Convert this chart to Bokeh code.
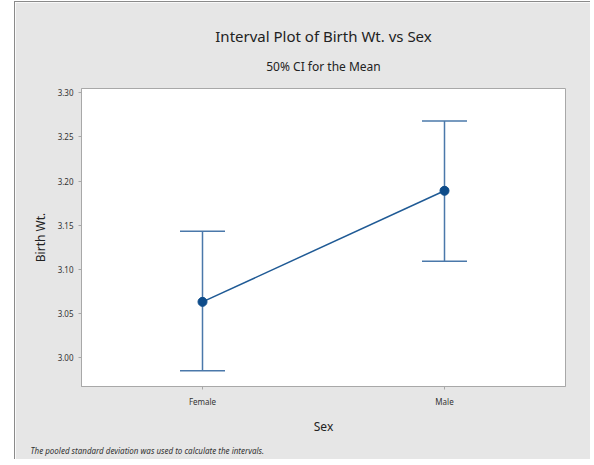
from bokeh.plotting import figure
from bokeh.models import (ColumnDataSource, Whisker, TeeHead, Title, FactorRange, Range1d,
                          FixedTicker, NumeralTickFormatter)
from bokeh.embed import file_html
from bokeh.resources import INLINE

categories = ["Female", "Male"]
means = [3.063, 3.189]
lower = [2.985, 3.109]
upper = [3.143, 3.268]
y_ticks = [3.00, 3.05, 3.10, 3.15, 3.20, 3.25, 3.30]

FONT = "Noto Sans"
BG = "#e6e6e6"
BAR = "#4a78aa"
DOT = "#0e4c8a"

src = ColumnDataSource(dict(x=categories, mean=means, lower=lower, upper=upper))

p = figure(x_range=FactorRange(*categories), y_range=Range1d(2.967, 3.305),
           width=576, height=458, output_backend="svg", toolbar_location=None,
           min_border_left=66, min_border_right=26, min_border_top=86, min_border_bottom=72)
p.border_fill_color = BG
p.background_fill_color = "white"
p.outline_line_color = "#a8a8a8"
p.grid.visible = False
p.styles = {"margin-left": "14px", "margin-top": "1px",
            "border-left": "1px solid #8a8a8a", "border-top": "1px solid #8a8a8a"}

# titles
p.add_layout(Title(text="50% CI for the Mean", text_font=FONT, text_font_size="12px",
                   text_font_style="normal", align="center", text_color="#222222",
                   standoff=27), "above")
p.add_layout(Title(text="Interval Plot of Birth Wt. vs Sex", text_font=FONT, text_font_size="15px",
                   text_font_style="normal", align="center", text_color="#222222",
                   standoff=-7), "above")
p.add_layout(Title(text="The pooled standard deviation was used to calculate the intervals.",
                   text_font=FONT, text_font_size="8px", text_font_style="italic",
                   align="left", text_color="#333333", offset=-51), "below")

w = Whisker(base="x", upper="upper", lower="lower", source=src, dimension="height",
            line_color=BAR, line_width=1.5,
            upper_head=TeeHead(size=45, line_color=BAR, line_width=1.5),
            lower_head=TeeHead(size=45, line_color=BAR, line_width=1.5))
p.add_layout(w)
p.line(x="x", y="mean", source=src, line_color="#1f5a95", line_width=1.5)
p.scatter(x="x", y="mean", source=src, size=9, color=DOT)

p.yaxis.ticker = FixedTicker(ticks=y_ticks)
p.yaxis.formatter = NumeralTickFormatter(format="0.00")
p.yaxis.axis_label = "Birth Wt."
for ax in (p.xaxis, p.yaxis):
    ax.axis_line_color = "#a8a8a8"
    ax.major_tick_line_color = "#a8a8a8"
    ax.minor_tick_line_color = None
    ax.major_tick_out = 3
    ax.major_tick_in = 0
    ax.major_label_text_font = FONT
    ax.major_label_text_font_size = "8px"
    ax.major_label_text_color = "#333333"
    ax.axis_label_text_font = FONT
    ax.axis_label_text_font_style = "normal"
    ax.axis_label_text_font_size = "12px"
    ax.axis_label_text_color = "#222222"
p.xaxis.axis_label = "Sex"
p.xaxis.major_label_standoff = 6
p.xaxis.axis_label_standoff = 8
p.yaxis.axis_label_standoff = 6

open("out.html", "w").write(file_html(p, INLINE))
